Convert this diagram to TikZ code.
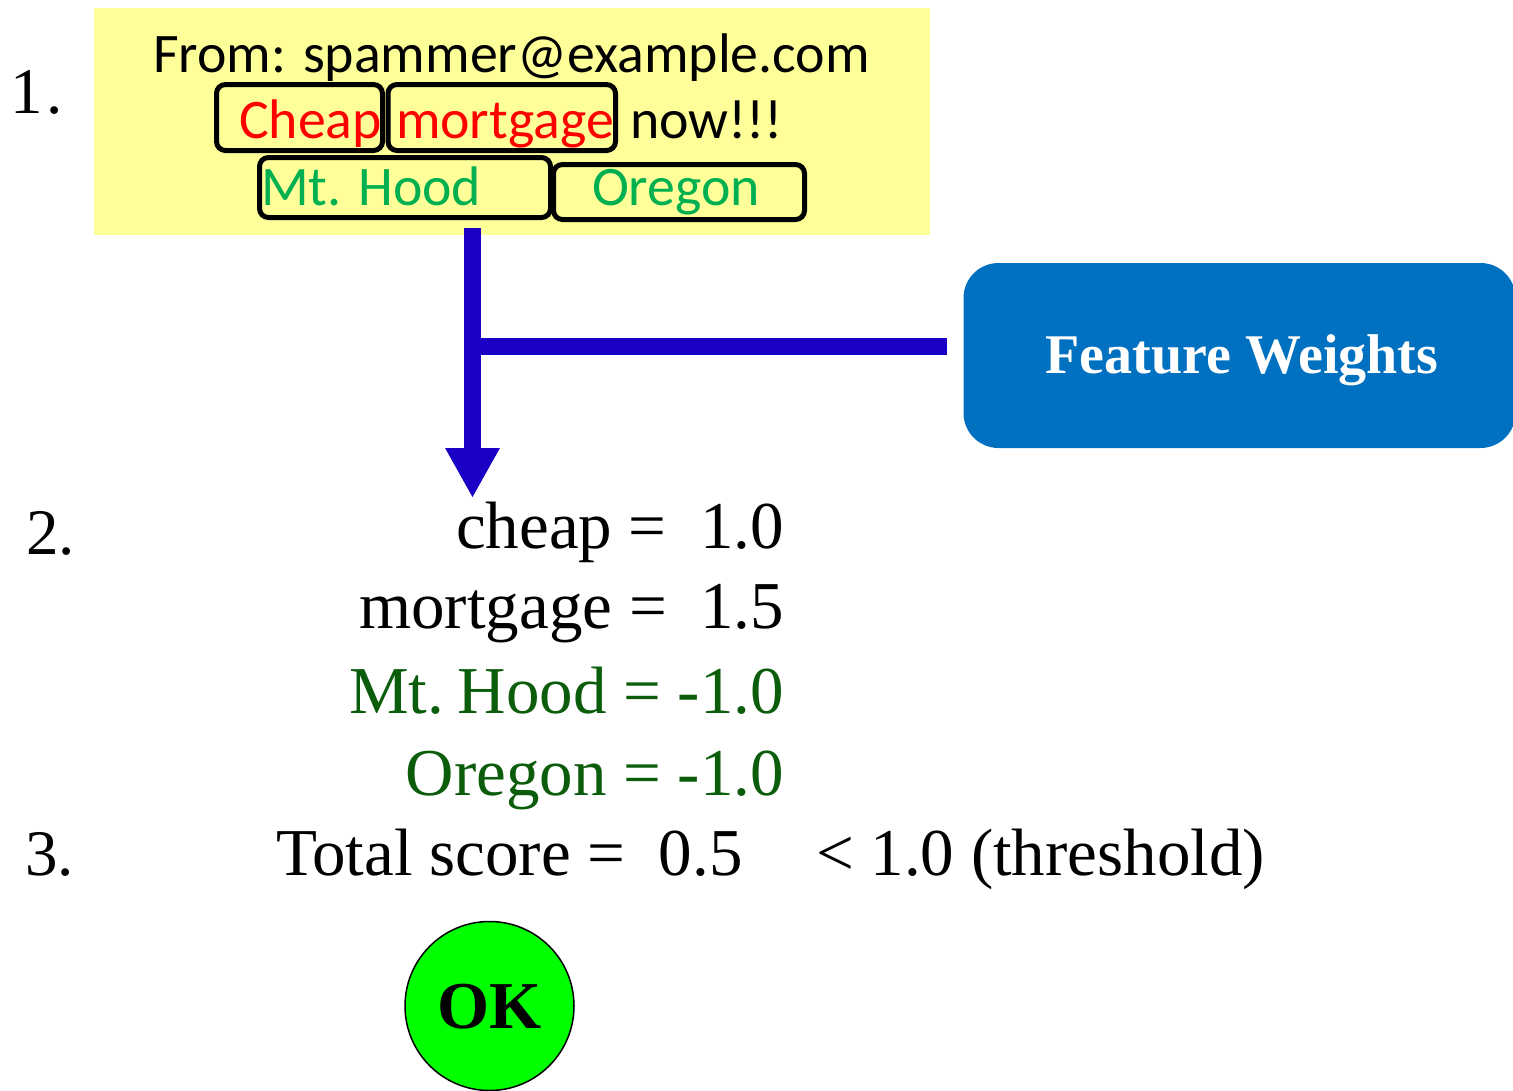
\documentclass[tikz,border=0pt]{standalone}
\usepackage{fontspec}
\setmainfont{Liberation Serif}
\newfontfamily\mailfont{Carlito}
\usetikzlibrary{arrows.meta}

\definecolor{notepaper}{HTML}{FFFF99}
\definecolor{spamred}{HTML}{FF0000}
\definecolor{hamgreen}{HTML}{00B050}
\definecolor{weightgreen}{HTML}{0B5D0B}
\definecolor{flowblue}{HTML}{1A00C4}
\definecolor{panelblue}{HTML}{0070C0}
\definecolor{okgreen}{HTML}{00FF00}

\tikzset{
  txt/.style={inner sep=0pt, outer sep=0pt},
  mail/.style={txt, anchor=base west, font=\mailfont\fontsize{55.8}{67}\selectfont},
  chip/.style={draw=black, line width=5pt, rounded corners=9pt},
  weight/.style={txt, anchor=base east, font=\fontsize{67}{80}\selectfont},
  score/.style={txt, anchor=base west, font=\fontsize{67}{80}\selectfont},
  stepno/.style={txt, anchor=base west, font=\fontsize{65}{78}\selectfont},
  flow/.style={draw=flowblue, fill=flowblue, line width=17pt, line cap=butt},
}

\begin{document}
\begin{tikzpicture}[x=1pt, y=-1pt]
\useasboundingbox (0,0) rectangle (1513,1090);
\clip (0,0) rectangle (1513,1090);

% the incoming message
\node[fill=notepaper, minimum width=836pt, minimum height=227pt, inner sep=0pt]
  (note) at (512,121.5) {};
\node[txt, anchor=base, font=\mailfont\fontsize{55.8}{67}\selectfont]
  (from) at (511.5,72) {From: spammer@example.com};
\node[mail, text=spamred] (wcheap) at (239,138) {Cheap};
\node[mail, text=spamred] (wmort) at (396,138) {mortgage};
\node[mail] (wnow) at (630,138) {now!!!};
\node[mail, text=hamgreen] (whood) at (261,205) {Mt. Hood};
\node[mail, text=hamgreen] (woreg) at (592,205) {Oregon};

% extracted feature boxes
\draw[chip] (216.5,84.5) rectangle (382.5,150.5);
\draw[chip] (388,84.5) rectangle (615.5,150.5);
\draw[chip] (259.5,157.5) rectangle (550.5,217.5);
\draw[chip] (553.5,164.5) rectangle (804.5,219.5);

% step numbers
\node[stepno] (s1) at (10,113) {1\kern4pt.};
\node[stepno] (s2) at (26,554) {2.};
\node[stepno] (s3) at (25,875) {3.};

% weight table
\node[fill=panelblue, rounded corners=35pt, minimum width=552pt, minimum height=185pt,
      inner sep=0pt] (fw) at (1239.5,355.5) {};
\node[txt, anchor=base, text=white, font=\bfseries\fontsize{56}{67}\selectfont]
  (fwlabel) at (1242,373) {Feature Weights};

% flow from the message to the scores, fed by the weights
\coordinate (drop) at (472.5,228);
\coordinate (land) at (472.5,498);
\coordinate (join) at (481,346.7);
\coordinate (tap) at (946.7,346.7);
\draw[flow, -{Triangle[length=50pt,width=51pt]}] (drop) -- (land);
\draw[flow] (join) -- (tap);

% per-feature weights
\node[weight] (vcheap) at (784,548) {cheap =\ \ 1.0};
\node[weight] (vmort) at (784,628) {mortgage =\ \ 1.5};
\node[weight, text=weightgreen] (vhood) at (784,713) {Mt.\kern-3pt\ Hood = -1.0};
\node[weight, text=weightgreen] (voreg) at (784,795) {Oregon = -1.0};

% total and decision
\node[score] (total) at (276,875) {Total score =\ \ 0.5};
\node[score] (thresh) at (816,875) {< 1.0 (threshold)};
\node[circle, draw=black, line width=1.5pt, fill=okgreen, minimum size=169pt,
      inner sep=0pt] (ok) at (489.5,1006) {};
\node[txt, anchor=base, font=\bfseries\fontsize{67}{80}\selectfont] (oklabel)
  at (489.5,1028) {OK};
\end{tikzpicture}
\end{document}
